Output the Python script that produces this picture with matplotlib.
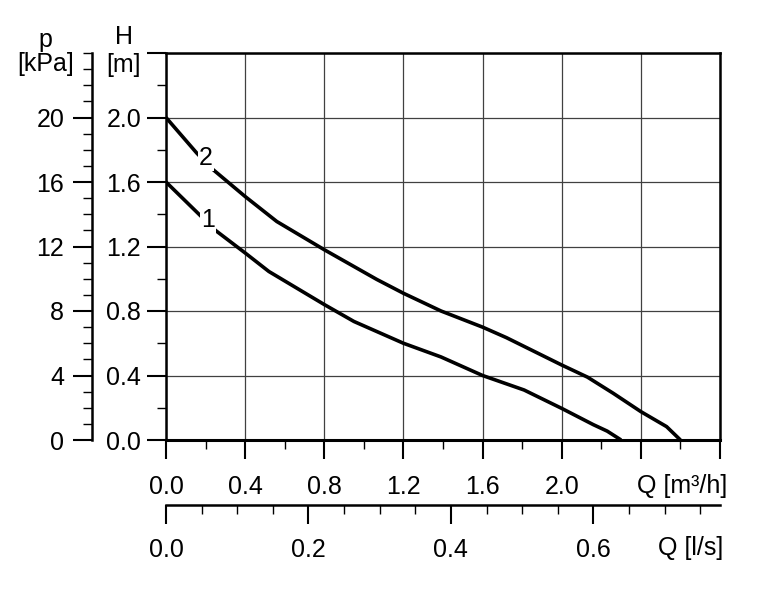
import matplotlib
matplotlib.use('Agg')
import matplotlib.pyplot as plt
from matplotlib.ticker import FixedLocator, FixedFormatter, MultipleLocator

plt.rcParams['font.family'] = ['Liberation Sans', 'DejaVu Sans']
plt.rcParams['font.size'] = 18

# pump curves: Q [m3/h], H [m]
q_curve1 = [0.0, 0.15, 0.25, 0.40, 0.52, 0.80, 0.95, 1.20, 1.39, 1.60, 1.81, 2.00, 2.16, 2.23, 2.30]
h_curve1 = [1.60, 1.42, 1.30, 1.16, 1.045, 0.84, 0.735, 0.60, 0.515, 0.40, 0.31, 0.196, 0.095, 0.055, 0.0]
q_curve2 = [0.0, 0.155, 0.23, 0.40, 0.56, 0.80, 1.065, 1.20, 1.39, 1.60, 1.72, 2.00, 2.13, 2.26, 2.40, 2.53, 2.60]
h_curve2 = [2.00, 1.78, 1.685, 1.51, 1.355, 1.18, 0.996, 0.91, 0.80, 0.70, 0.635, 0.465, 0.39, 0.29, 0.176, 0.083, 0.0]

curve_names = ['1', '2']
label_pos = [(0.214, 1.364), (0.20, 1.75)]

q_ticks = [0.0, 0.4, 0.8, 1.2, 1.6, 2.0, 2.4, 2.8]
q_ticklabels = ['0.0', '0.4', '0.8', '1.2', '1.6', '2.0', '', '']
h_ticks = [0.0, 0.4, 0.8, 1.2, 1.6, 2.0, 2.4]
h_ticklabels = ['0.0', '0.4', '0.8', '1.2', '1.6', '2.0', '']
p_ticks = [0, 4, 8, 12, 16, 20]
ls_ticks = [0.0, 0.2, 0.4, 0.6]
ls_ticklabels = ['0.0', '0.2', '0.4', '0.6']

fig = plt.figure(figsize=(7.65, 5.92), dpi=100)
ax = fig.add_axes([166/765, 1 - 440/592, 554/765, 387/592])

ax.plot(q_curve1, h_curve1, color='black', lw=2.6, solid_capstyle='butt', zorder=3)
ax.plot(q_curve2, h_curve2, color='black', lw=2.6, solid_capstyle='butt', zorder=3)
for name, (x, y) in zip(curve_names, label_pos):
    ax.text(x, y, name, ha='center', va='center', fontsize=18, zorder=4,
            bbox=dict(facecolor='white', edgecolor='none', pad=0.8))

ax.set_xlim(0, 2.8)
ax.set_ylim(0, 2.4)

# main Q axis [m3/h]
ax.xaxis.set_major_locator(FixedLocator(q_ticks))
ax.xaxis.set_major_formatter(FixedFormatter(q_ticklabels))
ax.xaxis.set_minor_locator(MultipleLocator(0.2))
ax.tick_params(axis='x', which='major', direction='out', length=14, width=1.5, pad=11)
ax.tick_params(axis='x', which='minor', direction='out', length=6.5, width=1.0)

# H axis [m]
ax.yaxis.set_major_locator(FixedLocator(h_ticks))
ax.yaxis.set_major_formatter(FixedFormatter(h_ticklabels))
ax.yaxis.set_minor_locator(MultipleLocator(0.2))
ax.tick_params(axis='y', which='major', direction='out', length=14, width=1.5, pad=4)
ax.tick_params(axis='y', which='minor', direction='out', length=6.5, width=1.0)

ax.grid(True, which='major', color='#404040', lw=0.9)
for s in ax.spines.values():
    s.set_linewidth(1.8)
ax.spines['bottom'].set_linewidth(2.2)

# p axis [kPa]
pax = ax.secondary_yaxis(-0.1336, functions=(lambda h: h * 10, lambda p: p / 10))
pax.yaxis.set_major_locator(FixedLocator(p_ticks))
pax.yaxis.set_minor_locator(MultipleLocator(1))
pax.tick_params(axis='y', which='major', length=14, width=1.5, pad=6, labelsize=18)
pax.tick_params(axis='y', which='minor', length=6.5, width=1.0)
pax.spines['left'].set_linewidth(1.8)

# Q axis [l/s]
lax = ax.secondary_xaxis(-0.168, functions=(lambda q: q / 3.6, lambda l: l * 3.6))
lax.xaxis.set_major_locator(FixedLocator(ls_ticks))
lax.xaxis.set_major_formatter(FixedFormatter(ls_ticklabels))
lax.xaxis.set_minor_locator(MultipleLocator(0.05))
lax.tick_params(axis='x', which='major', length=14, width=1.5, pad=10, labelsize=18)
lax.tick_params(axis='x', which='minor', length=6.5, width=1.0)
lax.spines['bottom'].set_linewidth(1.8)

fig.text(45/765, 1 - 40/592, 'p', ha='center', va='center')
fig.text(46/765, 1 - 64/592, '[kPa]', ha='center', va='center')
fig.text(124/765, 1 - 37/592, 'H', ha='center', va='center')
fig.text(123/765, 1 - 65/592, '[m]', ha='center', va='center')
fig.text(727/765, 1 - 486/592, 'Q [m³/h]', ha='right', va='center')
fig.text(723/765, 1 - 548/592, 'Q [l/s]', ha='right', va='center')

fig.savefig('out.png', dpi=100, facecolor='white')
